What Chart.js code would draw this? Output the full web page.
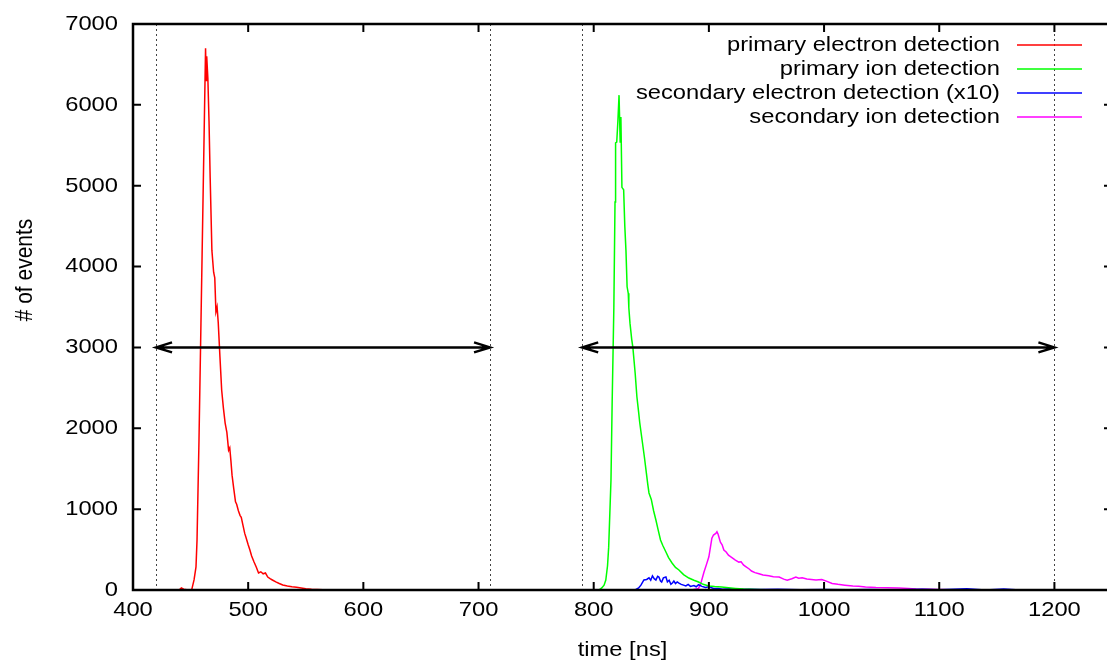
<!DOCTYPE html>
<html>
<head>
<meta charset="utf-8">
<script src="https://cdn.jsdelivr.net/npm/chart.js@4/dist/chart.umd.min.js"></script>
<style>
  html, body { margin: 0; padding: 0; overflow: hidden; background: #fff; }
  canvas { display: block; }
</style>
</head>
<body>
<canvas id="tofChart" width="1120" height="666" style="width:1120px;height:666px"></canvas>
<script>
// -----------------------------
// Data
// -----------------------------
const xTicks = [400, 500, 600, 700, 800, 900, 1000, 1100, 1200];
const yTicks = [0, 1000, 2000, 3000, 4000, 5000, 6000, 7000];

const seriesLabels = [
  "primary electron detection",
  "primary ion detection",
  "secondary electron detection (x10)",
  "secondary ion detection"
];
const seriesColors = ["#ff0000", "#00ff00", "#0000ff", "#ff00ff"];

const electronTime = [420, 440, 442, 444, 448, 451, 453, 454.7, 455.6, 457.3, 459, 460, 461, 462, 463, 463.5, 464, 465, 466,
  467, 468.5, 470, 471, 472, 473, 474, 475.5, 477, 478.5, 480, 481.5, 483, 484, 485, 486, 487.5, 489, 490, 491.5,
  493, 494, 495.5, 497, 498, 500, 501.5, 503, 505, 507, 509, 511, 513, 515, 517, 519, 521, 524, 527, 530, 534,
  538, 542, 546, 550, 555, 560, 570, 600, 700];
const electronCounts = [0, 0, 25, 10, 0, 5, 124, 285, 620, 1855, 3300, 4150, 5000, 5850, 6700, 6300, 6600, 6330, 5800,
  5100, 4200, 3930, 3860, 3440, 3500, 3310, 2880, 2470, 2250, 2065, 1950, 1730, 1760, 1600, 1420, 1250, 1090, 1060, 980,
  920, 900, 800, 700, 656, 560, 495, 420, 350, 285, 210, 225, 200, 210, 160, 140, 124, 100, 80, 62, 50,
  40, 35, 25, 15, 8, 5, 0, 0, 0];

const ionTime = [790, 800, 805, 807, 809, 810.5, 812, 813, 815, 816, 817.5, 818.5, 819, 820, 821, 822, 823, 823.6, 824.5,
  826, 827, 828, 829, 830, 830.5, 831.5, 833, 834, 836, 837.5, 839, 840, 842, 844, 845.6, 847, 848, 850, 852, 854,
  856, 858, 860, 862.7, 865, 868, 871, 874, 878, 882.6, 887, 891, 895, 900, 905, 911, 917, 923, 930, 940, 950,
  970, 1000, 1100];
const ionCounts = [0, 0, 5, 25, 60, 124, 300, 530, 1360, 2300, 3500, 4800, 5530, 5540, 5800, 6120, 5540, 5850, 4980,
  4950, 4500, 4200, 3750, 3670, 3490, 3300, 3100, 3000, 2680, 2390, 2200, 2065, 1855, 1645, 1460, 1300, 1200, 1120, 980, 866,
  740, 618, 550, 470, 400, 334, 280, 247, 190, 148, 120, 99, 70, 50, 42, 37, 28, 20, 12, 6, 3,
  0, 0, 0];

const secElectronTime = [830, 836, 839, 841, 843.6, 846, 848, 849.5, 851, 852.5, 854, 855.5, 856.6, 858, 859, 860.5,
  862.7, 864, 865.5, 867, 868.5, 869.6, 871, 872.5, 874, 876, 878, 880, 882, 884, 887, 889, 891, 894, 897, 900,
  904, 908, 912, 918, 925, 935, 945, 960, 980, 1000, 1020, 1040, 1060, 1085, 1100, 1124, 1140, 1156, 1170];
const secElectronCounts = [0, 0, 25, 60, 124, 130, 150, 120, 175, 140, 124, 170, 160, 110, 99, 150,
  160, 100, 120, 70, 90, 110, 80, 100, 85, 70, 60, 50, 70, 45, 55, 40, 65, 45, 30, 40,
  20, 20, 10, 15, 5, 10, 5, 8, 3, 5, 2, 6, 0, 8, 2, 15, 0, 12, 0];

const secIonTime = [885, 891, 893, 895.7, 898, 900, 902.6, 904, 906, 907, 908, 910, 911.5, 913, 915, 917, 920, 923,
  926, 928, 930, 932, 935, 937, 940, 943.5, 947, 952, 956, 961, 965, 968, 972, 975.5, 978, 981, 985, 989, 993,
  998, 1002, 1007, 1012, 1018, 1025, 1030, 1036, 1045, 1055, 1065, 1073, 1080, 1090, 1100, 1110, 1120, 1250];
const secIonCounts = [0, 20, 80, 220, 320, 410, 640, 680, 700, 720, 690, 590, 560, 495, 470, 430, 400, 370,
  345, 350, 310, 290, 260, 235, 215, 200, 185, 175, 165, 160, 135, 120, 140, 160, 145, 150, 135, 130, 125,
  130, 110, 80, 70, 60, 50, 45, 37, 30, 28, 25, 18, 12, 8, 5, 3, 0, 0];

// dotted time windows and the arrows between them
const markerTimes = [420, 710, 790, 1200];
const arrowRanges = [[420, 710], [790, 1200]];
const arrowLevel = 3000;

const xTitle = "time [ns]";
const yTitle = "# of events";

const FONT = "'Liberation Sans', Arial, Helvetica, sans-serif";
const FONT_SIZE = 21;
const STRETCH = 1.13; // the original text is a bit wider than it is tall

function toPoints(xs, ys) {
  return xs.map((x, i) => ({ x: x, y: ys[i] }));
}

// text drawn with the horizontal stretch of the source picture
function drawText(ctx, text, x, y, align, angle) {
  ctx.save();
  ctx.translate(x, y);
  ctx.scale(STRETCH, 1);
  if (angle) ctx.rotate(angle);
  ctx.textAlign = align;
  ctx.textBaseline = "middle";
  ctx.fillText(text, 0, 0);
  ctx.restore();
}

// -----------------------------
// Gnuplot-like frame, ticks, labels, markers, legend
// -----------------------------
const framePlugin = {
  id: "frame",
  beforeDatasetsDraw(chart) {
    const { ctx, chartArea: a, scales } = chart;
    ctx.save();
    ctx.strokeStyle = "#444";
    ctx.lineWidth = 1;
    ctx.setLineDash([2, 3]);
    markerTimes.forEach(t => {
      const px = Math.round(scales.x.getPixelForValue(t)) + 0.5;
      ctx.beginPath();
      ctx.moveTo(px, a.top);
      ctx.lineTo(px, a.bottom);
      ctx.stroke();
    });
    ctx.restore();
  },
  afterDatasetsDraw(chart) {
    const { ctx, chartArea: a, scales } = chart;
    ctx.save();
    ctx.strokeStyle = "#000";
    ctx.fillStyle = "#000";
    ctx.lineWidth = 2;
    ctx.setLineDash([]);
    ctx.font = FONT_SIZE + "px " + FONT;

    // inward ticks on all four sides + tick labels
    const tl = 8;
    xTicks.forEach(v => {
      const px = scales.x.getPixelForValue(v);
      ctx.beginPath();
      ctx.moveTo(px, a.bottom); ctx.lineTo(px, a.bottom - tl);
      ctx.moveTo(px, a.top); ctx.lineTo(px, a.top + tl);
      ctx.stroke();
      drawText(ctx, String(v), px, a.bottom + 20, "center");
    });
    yTicks.forEach(v => {
      const py = scales.y.getPixelForValue(v);
      ctx.beginPath();
      ctx.moveTo(a.left, py); ctx.lineTo(a.left + tl, py);
      ctx.moveTo(a.right, py); ctx.lineTo(a.right - tl, py);
      ctx.stroke();
      drawText(ctx, String(v), a.left - 15, py, "right");
    });

    // axis titles
    drawText(ctx, xTitle, (a.left + a.right) / 2, 650, "center");
    drawText(ctx, yTitle, 25, 270, "center", -Math.PI / 2);

    // frame
    ctx.lineWidth = 2.5;
    ctx.strokeRect(a.left, a.top, a.right - a.left, a.bottom - a.top);

    // double-headed arrows
    const ay = scales.y.getPixelForValue(arrowLevel);
    arrowRanges.forEach(([t0, t1]) => {
      const x0 = scales.x.getPixelForValue(t0);
      const x1 = scales.x.getPixelForValue(t1);
      ctx.beginPath();
      ctx.moveTo(x0, ay); ctx.lineTo(x1, ay);
      ctx.moveTo(x0 + 16, ay - 5); ctx.lineTo(x0, ay); ctx.lineTo(x0 + 16, ay + 5);
      ctx.moveTo(x1 - 16, ay - 5); ctx.lineTo(x1, ay); ctx.lineTo(x1 - 16, ay + 5);
      ctx.stroke();
    });

    // legend: right-aligned text, sample line on the right
    chart.data.datasets.forEach((ds, i) => {
      const y = 45 + i * 24;
      ctx.fillStyle = "#000";
      drawText(ctx, ds.label, 1000, y, "right");
      ctx.strokeStyle = ds.borderColor;
      ctx.lineWidth = 1.5;
      ctx.beginPath();
      ctx.moveTo(1017, y); ctx.lineTo(1082, y);
      ctx.stroke();
    });
    ctx.restore();
  }
};

const seriesTimes = [electronTime, ionTime, secElectronTime, secIonTime];
const seriesCounts = [electronCounts, ionCounts, secElectronCounts, secIonCounts];

const chart = new Chart(document.getElementById("tofChart").getContext("2d"), {
  type: "line",
  data: {
    datasets: seriesLabels.map((label, i) => ({
      label: label,
      data: toPoints(seriesTimes[i], seriesCounts[i]),
      borderColor: seriesColors[i],
      backgroundColor: seriesColors[i],
      borderWidth: 1.5,
      pointRadius: 0,
      tension: 0,
      fill: false
    }))
  },
  options: {
    responsive: false,
    devicePixelRatio: 1,
    animation: false,
    layout: { padding: { left: 0, top: 24, right: 8, bottom: 0 } },
    plugins: {
      legend: { display: false },
      tooltip: { enabled: false }
    },
    scales: {
      x: {
        type: "linear",
        min: 400,
        max: 1250,
        afterBuildTicks: s => { s.ticks = xTicks.map(v => ({ value: v })); },
        afterFit: s => { s.height = 76; },
        grid: { display: false, drawTicks: false },
        border: { display: false },
        ticks: { display: false }
      },
      y: {
        min: 0,
        max: 7000,
        afterBuildTicks: s => { s.ticks = yTicks.map(v => ({ value: v })); },
        afterFit: s => { s.width = 133; },
        grid: { display: false, drawTicks: false },
        border: { display: false },
        ticks: { display: false }
      }
    }
  },
  plugins: [framePlugin]
});
</script>
</body>
</html>
